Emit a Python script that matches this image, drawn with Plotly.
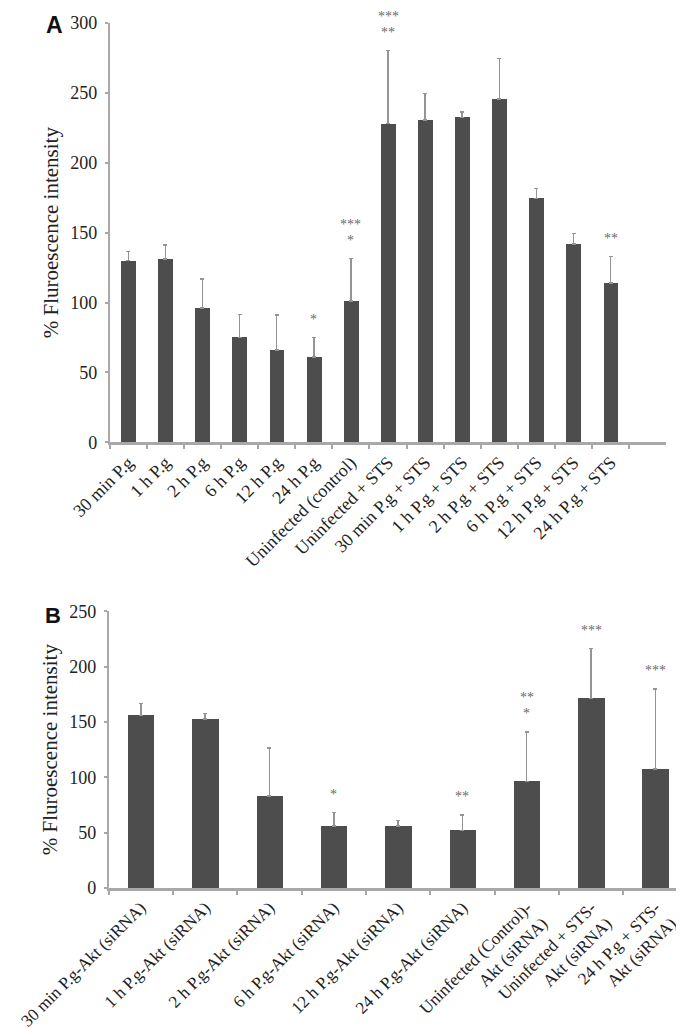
import plotly.graph_objects as go

# ---------------- data ----------------
cats_a = ["30 min P.g", "1 h P.g", "2 h P.g", "6 h P.g", "12 h P.g", "24 h P.g",
          "Uninfected (control)", "Uninfected + STS", "30 min P.g + STS",
          "1 h P.g + STS", "2 h P.g + STS", "6 h P.g + STS", "12 h P.g + STS",
          "24 h P.g + STS"]
vals_a = [130, 131, 96, 75, 66, 61, 101, 228, 230.5, 232.5, 245.5, 174.5, 142, 114]
err_a = [6.5, 10, 21, 16.5, 25, 14, 30.5, 52.5, 19, 4, 29, 7, 7.5, 19]
stars_a = ["", "", "", "", "", "*", "***|*", "***|**", "", "", "", "", "", "**"]

cats_b = ["30 min P.g-Akt (siRNA)", "1 h P.g-Akt (siRNA)", "2 h P.g-Akt (siRNA)",
          "6 h P.g-Akt (siRNA)", "12 h P.g-Akt (siRNA)", "24 h P.g-Akt (siRNA)",
          "Uninfected (Control)-<br>Akt (siRNA)", "Uninfected + STS-<br>Akt (siRNA)",
          "24 h P.g + STS-<br>Akt (siRNA)"]
vals_b = [156, 152.5, 83, 56, 56, 52, 96, 171, 107.5]
err_b = [10.5, 5, 43.5, 12, 5, 14, 45, 45.5, 72.5]
stars_b = ["", "", "", "*", "", "**", "**|*", "***", "***"]

W, H = 684, 1029
SERIF = "Liberation Serif, Times New Roman, serif"
BAR = "#4d4d4d"
ERR = "#949494"
AXC = "#a8a8a8"

fig = go.Figure()
fig.add_trace(go.Bar(x=cats_a, y=vals_a, width=0.40, marker=dict(color=BAR, line=dict(width=0)),
                     error_y=dict(type="data", symmetric=False, array=err_a,
                                  arrayminus=[0] * len(err_a), color=ERR, thickness=1.5, width=2),
                     xaxis="x", yaxis="y", showlegend=False))
fig.add_trace(go.Bar(x=cats_b, y=vals_b, width=0.41, marker=dict(color=BAR, line=dict(width=0)),
                     error_y=dict(type="data", symmetric=False, array=err_b,
                                  arrayminus=[0] * len(err_b), color=ERR, thickness=1.5, width=2),
                     xaxis="x2", yaxis="y2", showlegend=False))

def xax(domain, rng, anchor, fs):
    return dict(domain=domain, range=rng, type="category", anchor=anchor,
                tickson="boundaries", ticks="outside", ticklen=4, tickwidth=1.5,
                tickcolor=AXC, showline=True, linecolor=AXC, linewidth=2.5,
                showgrid=False, zeroline=False, tickangle=-45, automargin=False,
                tickfont=dict(family=SERIF, size=fs, color="#222"))

def yax(domain, rng, anchor, standoff):
    return dict(domain=domain, range=rng, anchor=anchor, dtick=50, ticks="outside",
                ticklen=3, tickwidth=1.5, tickcolor=AXC, showline=True, linecolor=AXC,
                linewidth=1.5, showgrid=False, zeroline=False, automargin=False,
                ticklabelstandoff=4,
                tickfont=dict(family=SERIF, size=18, color="#222"),
                title=dict(text="% Fluroescence intensity", standoff=standoff,
                           font=dict(family=SERIF, size=21, color="#222")))

fig.update_layout(
    width=W, height=H, margin=dict(l=0, r=0, t=0, b=0),
    paper_bgcolor="white", plot_bgcolor="white", bargap=0,
    xaxis=xax([101.7 / W, 658.3 / W], [-0.5, 14.5], "y", 18),
    yaxis=yax([1 - 434.3 / H, 1 - 15 / H], [0, 300], "x", 6),
    xaxis2=xax([100.7 / W, 675 / W], [-0.5, 8.43], "y2", 17.2),
    yaxis2=yax([1 - 880 / H, 1 - 603.3 / H], [0, 250], "x2", 6),
)

ann = []
def add_stars(cats, vals, errs, stars, xr, yr):
    for c, v, e, s in zip(cats, vals, errs, stars):
        if not s:
            continue
        rows = s.split("|")
        for k, r in enumerate(reversed(rows)):
            ann.append(dict(x=c, y=v + e, xref=xr, yref=yr, text=r, showarrow=False,
                            yanchor="middle", yshift=18 + 16 * k, borderpad=0,
                            font=dict(family=SERIF, size=14, color="#6a6a6a")))

add_stars(cats_a, vals_a, err_a, stars_a, "x", "y")
add_stars(cats_b, vals_b, err_b, stars_b, "x2", "y2")

ann.append(dict(x=46 / W, y=1 - 17 / H, xref="paper", yref="paper", text="<b>A</b>",
                showarrow=False, xanchor="center", yanchor="middle",
                font=dict(family="Liberation Sans, Arial, sans-serif", size=23, color="#111")))
ann.append(dict(x=45 / W, y=1 - 607 / H, xref="paper", yref="paper", text="<b>B</b>",
                showarrow=False, xanchor="center", yanchor="middle",
                font=dict(family="Liberation Sans, Arial, sans-serif", size=22, color="#111")))
fig.update_layout(annotations=ann)

fig.write_html("out.html")
